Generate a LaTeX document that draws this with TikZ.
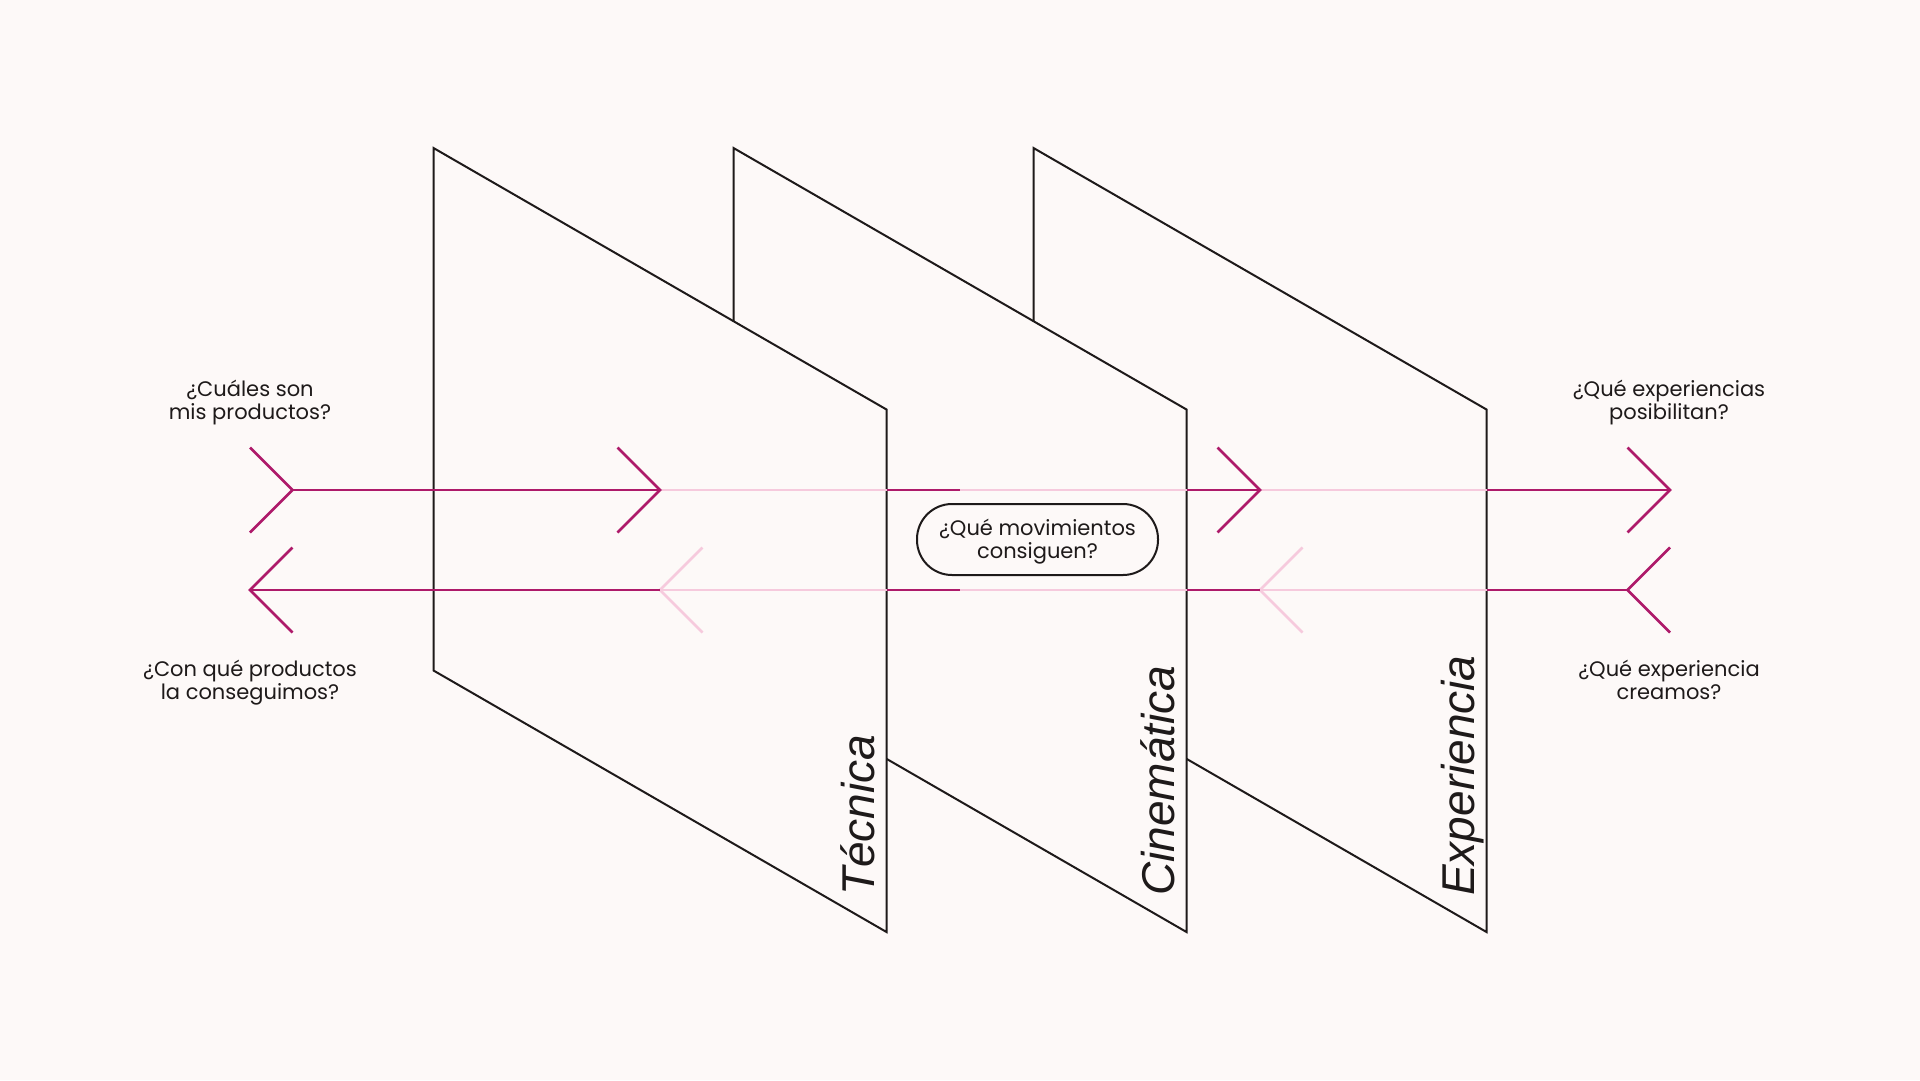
\documentclass[tikz,border=0pt]{standalone}
\usepackage{fontspec}
\setmainfont{Poppins}
\newfontfamily\panelfont{Liberation Sans}
\definecolor{bg}{HTML}{FDF9F8}
\definecolor{mag}{HTML}{AE1A6A}
\definecolor{pinkl}{HTML}{F6CADD}
\definecolor{ink}{HTML}{1E1A1A}
\tikzset{
  panel/.style={draw=ink, fill=bg, line width=2pt, line join=miter},
  darkline/.style={draw=mag, line width=2.6pt, line join=miter},
  lightline/.style={draw=pinkl, line width=2.6pt, line join=miter},
  question/.style={font=\fontsize{21}{23}\selectfont, align=center, text=ink, inner sep=0pt},
  plabel/.style={font=\panelfont\itshape\fontsize{46}{50}\selectfont, rotate=90, anchor=base west, inner sep=0pt, text=ink},
  pillbox/.style={draw=ink, line width=2pt, fill=bg, rounded corners=35pt, minimum width=241pt, minimum height=71pt, inner sep=0pt, align=center, font=\fontsize{21}{23}\selectfont, text=ink}
}
\begin{document}
\begin{tikzpicture}[x=1pt, y=-1pt]
\useasboundingbox (0,0) rectangle (1920,1080);
\fill[bg] (0,0) rectangle (1920,1080);

% panels, back to front
\foreach \i/\nm in {2/exp,1/cin,0/tec}{
  \pgfmathsetmacro{\L}{433.5+300*\i}
  \pgfmathsetmacro{\R}{\L+453}
  \path[panel] (\L,148) coordinate (\nm-tl) -- (\R,409.5) coordinate (\nm-tr)
     -- (\R,932) coordinate (\nm-br) -- (\L,670.5) coordinate (\nm-bl) -- cycle;
}

% panel labels
\node[plabel] (ltec) at (874.5,896) {Técnica};
\node[plabel] (lcin) at (1174.5,896) {Cinemática};
\node[plabel] (lexp) at (1474.5,896) {Experiencia};

% top arrow coordinates (y = 490)
\foreach \n/\x in {A/292.5,B/660,C/886.5,D/960,E/1186.5,F/1260,G/1486.5,H/1670}{
  \coordinate (t\n) at (\x,490);
}
% bottom arrow coordinates (y = 590)
\foreach \n/\x in {A/250,B/660,C/886.5,D/960,E/1186.5,F/1260,G/1486.5,H/1627.5}{
  \coordinate (b\n) at (\x,590);
}

% light segments
\draw[lightline] (tB) -- (tC);
\draw[lightline] (tD) -- (tE);
\draw[lightline] (tF) -- (tG);
\draw[lightline] (bB) -- (bC);
\draw[lightline] (bD) -- (bE);
\draw[lightline] (bF) -- (bG);
\draw[lightline] ([shift={(42.5,-42.5)}]bB) -- (bB) -- ([shift={(42.5,42.5)}]bB);
\draw[lightline] ([shift={(42.5,-42.5)}]bF) -- (bF) -- ([shift={(42.5,42.5)}]bF);

% dark segments
\draw[darkline] (tA) -- (tB);
\draw[darkline] (tC) -- (tD);
\draw[darkline] (tE) -- (tF);
\draw[darkline] (tG) -- (tH);
\draw[darkline] (bA) -- (bB);
\draw[darkline] (bC) -- (bD);
\draw[darkline] (bE) -- (bF);
\draw[darkline] (bG) -- (bH);

% dark chevrons, top
\draw[darkline] ([shift={(-42.5,-42.5)}]tA) -- (tA) -- ([shift={(-42.5,42.5)}]tA);
\draw[darkline] ([shift={(-42.5,-42.5)}]tB) -- (tB) -- ([shift={(-42.5,42.5)}]tB);
\draw[darkline] ([shift={(-42.5,-42.5)}]tF) -- (tF) -- ([shift={(-42.5,42.5)}]tF);
\draw[darkline] ([shift={(-42.5,-42.5)}]tH) -- (tH) -- ([shift={(-42.5,42.5)}]tH);
% dark chevrons, bottom
\draw[darkline] ([shift={(42.5,-42.5)}]bA) -- (bA) -- ([shift={(42.5,42.5)}]bA);
\draw[darkline] ([shift={(42.5,-42.5)}]bH) -- (bH) -- ([shift={(42.5,42.5)}]bH);

% pill
\node[pillbox] (pill) at (1037.5,539.5) {};
\node[font=\fontsize{21}{23}\selectfont, align=center, text=ink, inner sep=0pt] (pilltext) at (1037.5,542) {¿Qué movimientos\\consiguen?};

% questions
\node[question] (q1) at (250,403) {¿Cuáles son\\mis productos?};
\node[question] (q2) at (250,683) {¿Con qué productos\\la conseguimos?};
\node[question] (q3) at (1669,403) {¿Qué experiencias\\posibilitan?};
\node[question] (q4) at (1669,680) {¿Qué experiencia\\creamos?};
\end{tikzpicture}
\end{document}
